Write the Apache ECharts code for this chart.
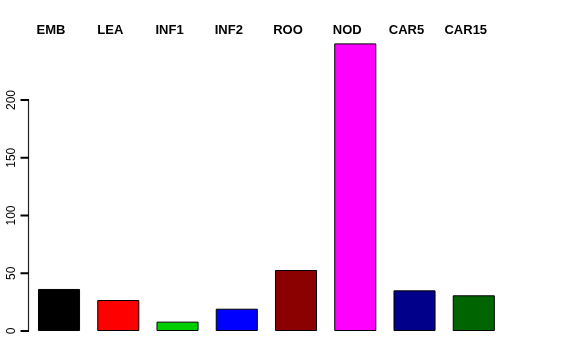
<!DOCTYPE html>
<html><head><meta charset="utf-8">
<script src="https://cdn.jsdelivr.net/npm/echarts@6/dist/echarts.min.js"></script>
<style>html,body{margin:0;padding:0;background:#fff}#c{width:576px;height:360px}</style>
</head><body><div id="c"></div>
<script>
const categories = ['EMB','LEA','INF1','INF2','ROO','NOD','CAR5','CAR15'];
const values = [36.4, 26.8, 8.1, 19.3, 52.8, 249, 35.2, 30.9];
const colors = ['#000000','#FF0000','#00CD00','#0000FF','#8B0000','#FF00FF','#00008B','#006400'];
const yTicks = [0, 50, 100, 150, 200];

const chart = echarts.init(document.getElementById('c'), null, {renderer:'canvas'});
const font = 'Liberation Sans, Arial, Helvetica, sans-serif';
chart.setOption({
  animation: false,
  backgroundColor: '#fff',
  grid: {left: 29.4, right: 72.6, top: 42.25, bottom: 29},
  xAxis: {
    type: 'category', data: categories, position: 'top',
    axisLine: {show: false}, axisTick: {show: false},
    axisLabel: {fontFamily: font, fontWeight: 'bold', fontSize: 13, color: '#000', margin: 5, padding: [0, 16, 0, 0], interval: 0}
  },
  yAxis: {
    type: 'value', min: 0, max: 250,
    axisLine: {show: false},
    splitLine: {show: false},
    axisTick: {show: false},
    axisLabel: {rotate: 90, fontFamily: font, fontSize: 12, color: '#000', margin: 12, customValues: yTicks}
  },
  series: [{
    type: 'bar', barCategoryGap: '29%',
    data: values.map((v, i) => ({value: v, itemStyle: {color: colors[i]}})),
    itemStyle: {borderColor: '#000', borderWidth: 1}
  }]
});
const gx = Math.round(chart.getModel().getComponent('grid').coordinateSystem.getRect().x) - 0.5;
const py = yTicks.map(t => chart.convertToPixel({yAxisIndex: 0}, t));
const g = [{id: 'axl', type: 'line', z: 100, shape: {x1: gx, y1: py[0], x2: gx, y2: py[py.length - 1]}, style: {stroke: '#222', lineWidth: 1.2}}];
for (let i = 0; i < py.length; i++) {
  g.push({id: 'tk' + i, type: 'line', z: 100, shape: {x1: gx - 8, y1: py[i], x2: gx + 0.5, y2: py[i]}, style: {stroke: '#000', lineWidth: 2}});
}
chart.setOption({graphic: {elements: g}});
</script></body></html>
